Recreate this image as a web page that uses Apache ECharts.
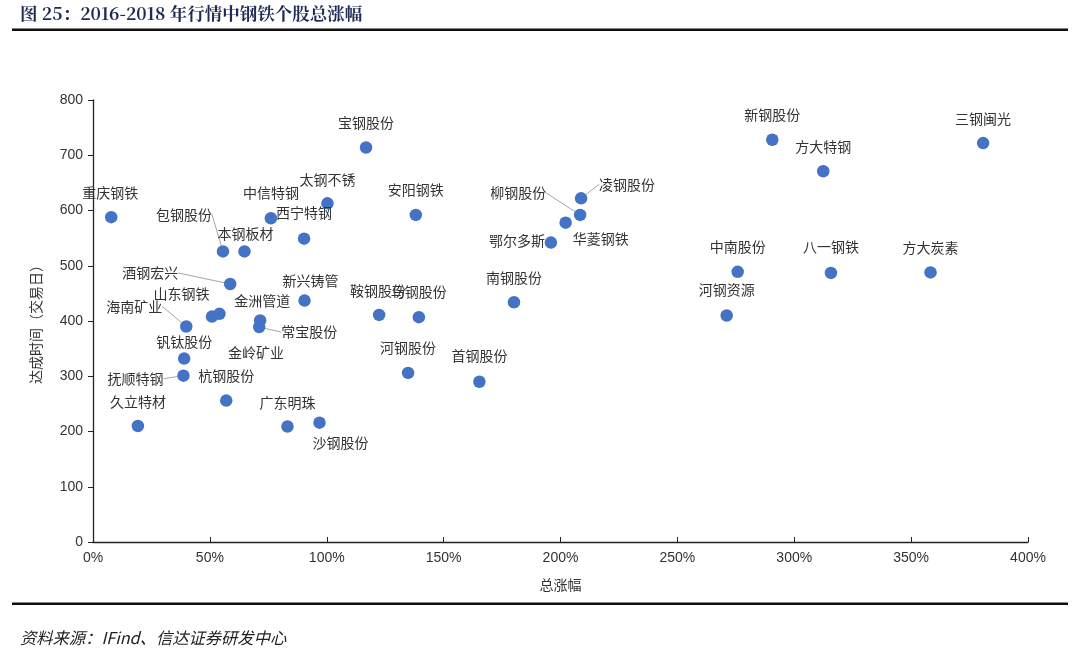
<!DOCTYPE html>
<html>
<head>
<meta charset="utf-8">
<script src="https://cdn.jsdelivr.net/npm/echarts@6/dist/echarts.min.js"></script>
<style>
html,body{margin:0;padding:0;background:#fff;}
#chart{width:1080px;height:657px;}
</style>
</head>
<body>
<div id="chart"></div>
<script>
// ---- data ----
const names = ['重庆钢铁','包钢股份','本钢板材','中信特钢','太钢不锈','西宁特钢','酒钢宏兴','新兴铸管','金岭矿业','山东钢铁','海南矿业','金洲管道','常宝股份','钒钛股份','抚顺特钢','杭钢股份','久立特材','广东明珠','沙钢股份','宝钢股份','安阳钢铁','鞍钢股份','马钢股份','河钢股份','首钢股份','南钢股份','鄂尔多斯','华菱钢铁','柳钢股份','凌钢股份','新钢股份','方大特钢','三钢闽光','中南股份','八一钢铁','方大炭素','河钢资源'];
const totalGain = [7.8,55.6,64.8,76.1,100.3,90.3,58.7,90.5,50.9,54.1,39.9,71.5,71.1,39.0,38.7,57.0,19.2,83.2,96.9,116.8,138.1,122.4,139.4,134.8,165.3,180.1,195.9,202.2,208.4,208.8,290.6,312.4,380.8,275.8,315.7,358.3,271.1];
const tradeDays = [588,526,526,586,613,549,467,437,408,413,390,401,389,332,301,256,210,209,216,714,592,411,407,306,290,434,542,578,592,622,728,671,722,489,487,488,410];
const xTicks = [0,50,100,150,200,250,300,350,400];
const yTicks = [0,100,200,300,400,500,600,700,800];

// ---- label placement (style) ----
const labelOffsets = {
 '重庆钢铁':[-1,-24],'包钢股份':[-39,-37],'本钢板材':[1,-18],'中信特钢':[0,-26],'太钢不锈':[0,-24],
 '西宁特钢':[0,-26],'酒钢宏兴':[-80,-11],'新兴铸管':[6,-20],'金岭矿业':[44,36],'山东钢铁':[-38,-20],
 '海南矿业':[-52,-20],'金洲管道':[2,-20],'常宝股份':[50,5],'钒钛股份':[0,-17],'抚顺特钢':[-48,3],
 '杭钢股份':[0,-25],'久立特材':[0,-24],'广东明珠':[0,-24],'沙钢股份':[21,20],'宝钢股份':[0,-25],
 '安阳钢铁':[0,-25],'鞍钢股份':[-1,-24],'马钢股份':[0,-25],'河钢股份':[0,-25],'首钢股份':[0,-26],
 '南钢股份':[0,-25],'鄂尔多斯':[-34,-2],'华菱钢铁':[35,16],'柳钢股份':[-62,-22],'凌钢股份':[46,-14],
 '新钢股份':[0,-25],'方大特钢':[0,-25],'三钢闽光':[0,-24],'中南股份':[0,-25],'八一钢铁':[0,-26],
 '方大炭素':[0,-25],'河钢资源':[0,-26]
};
const withLeader = ['包钢股份','酒钢宏兴','海南矿业','常宝股份','抚顺特钢','柳钢股份','凌钢股份'];

const seriesData = names.map((n,i)=>{
  const item = {name:n, value:[totalGain[i], tradeDays[i]]};
  if (withLeader.indexOf(n) >= 0) item.labelLine = {show:true};
  return item;
});

const chart = echarts.init(document.getElementById('chart'));
const axisFont = {fontFamily:'Liberation Sans, Arial, sans-serif', fontSize:14, color:'#333'};
chart.setOption({
  animation:false,
  backgroundColor:'#fff',
  graphic:[
    {type:'text', left:20, top:5, style:{text:'图 25：2016-2018 年行情中钢铁个股总涨幅', fill:'#1f2a55', font:'bold 17.5px "Noto Serif CJK SC","Noto Sans CJK SC",serif'}},
    {type:'rect', shape:{x:12,y:28.5,width:1056,height:2.5}, style:{fill:'#111'}},
    {type:'rect', shape:{x:12,y:602.5,width:1056,height:2.5}, style:{fill:'#111'}},
    {type:'text', left:20, top:630, style:{text:'资料来源：IFind、信达证券研发中心', fill:'#222', font:'italic 16.3px "Noto Sans CJK SC",serif'}}
  ],
  grid:{left:93, right:52, top:100, bottom:115, containLabel:false},
  xAxis:{
    type:'value', min:0, max:400, interval:50,
    name:'总涨幅', nameLocation:'middle', nameGap:36,
    nameTextStyle:{fontFamily:'Noto Sans CJK SC', fontSize:14, color:'#333'},
    axisLine:{show:true, lineStyle:{color:'#222', width:1.3}},
    axisTick:{show:true, inside:true, length:5, lineStyle:{color:'#222'}},
    axisLabel:Object.assign({formatter:v=>v+'%', margin:9}, axisFont),
    splitLine:{show:false}
  },
  yAxis:{
    type:'value', min:0, max:800, interval:100,
    name:'达成时间（交易日）', nameLocation:'middle', nameGap:50, nameRotate:90,
    nameTextStyle:{fontFamily:'Noto Sans CJK SC', fontSize:14, color:'#333'},
    axisLine:{show:true, lineStyle:{color:'#222', width:1.3}},
    axisTick:{show:true, inside:false, length:5, lineStyle:{color:'#222'}},
    axisLabel:Object.assign({margin:10}, axisFont),
    splitLine:{show:false}
  },
  series:[{
    type:'scatter',
    symbolSize:12.5,
    itemStyle:{color:'#4472C4', opacity:1},
    data:seriesData,
    label:{show:true, position:'inside', formatter:p=>p.name, color:'#333', fontSize:14, fontFamily:'Noto Sans CJK SC'},
    labelLine:{show:false, lineStyle:{color:'#a6a6a6', width:1}},
    labelLayout:function(p){
      const o = labelOffsets[names[p.dataIndex]] || [0,-25];
      return {dx:o[0], dy:o[1]};
    }
  }]
});
</script>
</body>
</html>
